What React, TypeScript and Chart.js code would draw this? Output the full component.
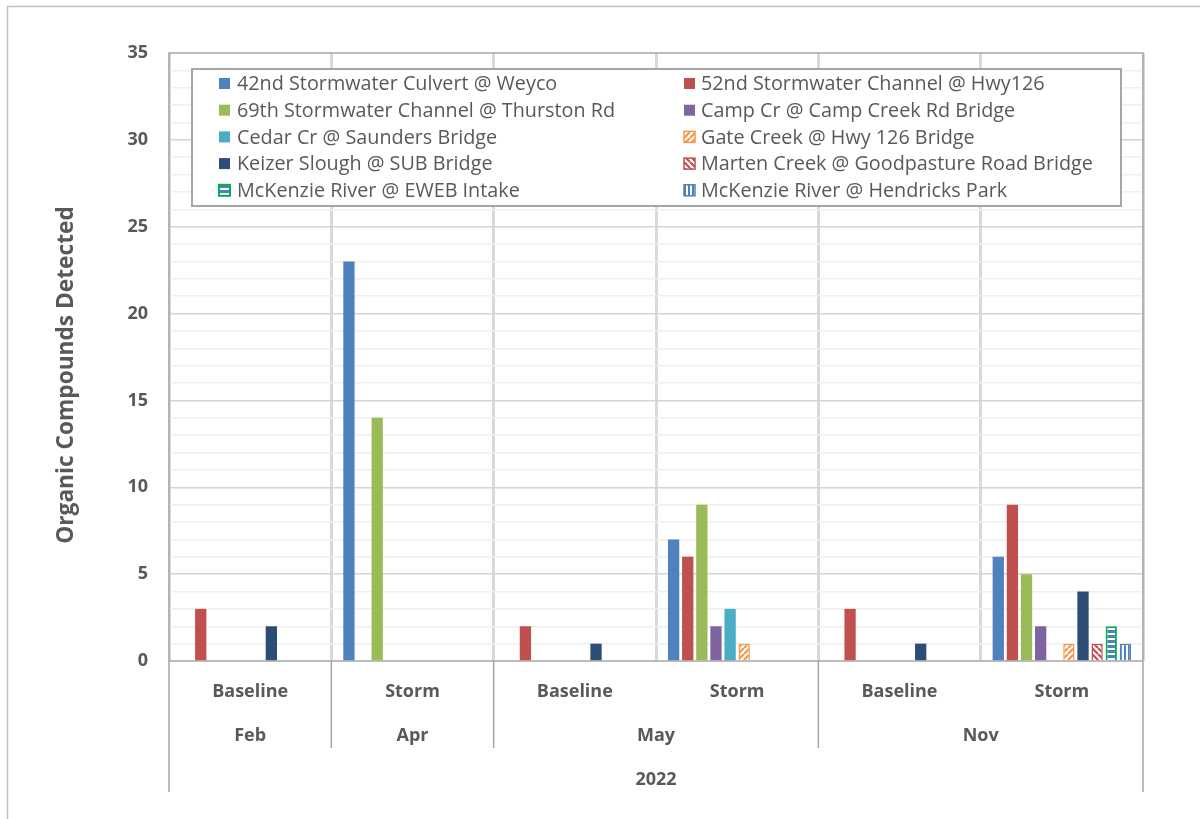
import React, { useEffect, useRef } from 'react';
import { Chart, registerables } from 'chart.js';

Chart.register(...registerables);

// ---- Data ----
const categories = ['Baseline', 'Storm', 'Baseline', 'Storm', 'Baseline', 'Storm'];
const months = ['Feb', 'Apr', 'May', 'Nov'];
const monthSpans = [1, 1, 2, 2];
const yearLabel = '2022';

const seriesNames = [
  '42nd Stormwater Culvert @ Weyco',
  '52nd Stormwater Channel @ Hwy126',
  '69th Stormwater Channel @ Thurston Rd',
  'Camp Cr @ Camp Creek Rd Bridge',
  'Cedar Cr @ Saunders Bridge',
  'Gate Creek @ Hwy 126 Bridge',
  'Keizer Slough @ SUB Bridge',
  'Marten Creek @ Goodpasture Road Bridge',
  'McKenzie River @ EWEB Intake',
  'McKenzie River @ Hendricks Park',
];

const s42nd = [null, 23, null, 7, null, 6];
const s52nd = [3, null, 2, 6, 3, 9];
const s69th = [null, 14, null, 9, null, 5];
const sCamp = [null, null, null, 2, null, 2];
const sCedar = [null, null, null, 3, null, null];
const sGate = [null, null, null, 1, null, 1];
const sKeizer = [2, null, 1, null, 1, 4];
const sMarten = [null, null, null, null, null, 1];
const sEweb = [null, null, null, null, null, 2];
const sHendricks = [null, null, null, null, null, 1];

const seriesValues = [s42nd, s52nd, s69th, sCamp, sCedar, sGate, sKeizer, sMarten, sEweb, sHendricks];

const yMin = 0;
const yMax = 35;
const yStep = 1;
const yLabelStep = 5;
const yTitle = 'Organic Compounds Detected';

// ---- Styles ----
const FONT = '"Open Sans", "Noto Sans", sans-serif';
const TEXT = '#595959';
const FRAME = '#a6a6a6';

type Fill = { kind: 'solid' | 'up' | 'down' | 'horiz' | 'vert'; color: string; border?: string };
const seriesFills: Fill[] = [
  { kind: 'solid', color: '#4f81bd' },
  { kind: 'solid', color: '#c0504d' },
  { kind: 'solid', color: '#9bbb59' },
  { kind: 'solid', color: '#8064a2' },
  { kind: 'solid', color: '#4bacc6' },
  { kind: 'up', color: '#f79646', border: '#f79646' },
  { kind: 'solid', color: '#2c4d75' },
  { kind: 'down', color: '#c0504d', border: '#c0504d' },
  { kind: 'horiz', color: '#4f81bd', border: '#00b050' },
  { kind: 'vert', color: '#4f81bd', border: '#4f81bd' },
];

function makeFill(f: Fill): string | CanvasPattern {
  if (f.kind === 'solid') return f.color;
  const c = document.createElement('canvas');
  const g = c.getContext('2d')!;
  if (f.kind === 'up' || f.kind === 'down') {
    const s = 6;
    c.width = s; c.height = s;
    g.fillStyle = '#ffffff';
    g.fillRect(0, 0, s, s);
    g.strokeStyle = f.color;
    g.lineWidth = 2.2;
    g.beginPath();
    for (const k of [-s, 0, s]) {
      if (f.kind === 'up') { g.moveTo(k, s); g.lineTo(k + s, 0); }
      else { g.moveTo(k, 0); g.lineTo(k + s, s); }
    }
    g.stroke();
  } else if (f.kind === 'horiz') {
    c.width = 4; c.height = 5;
    g.fillStyle = '#ffffff';
    g.fillRect(0, 0, 4, 5);
    g.fillStyle = f.color;
    g.fillRect(0, 0, 4, 3);
  } else {
    c.width = 4; c.height = 4;
    g.fillStyle = '#ffffff';
    g.fillRect(0, 0, 4, 4);
    g.fillStyle = f.color;
    g.fillRect(0, 0, 2, 4);
  }
  return g.createPattern(c, 'repeat')!;
}

const decorPlugin = {
  id: 'decor',
  beforeDatasetsDraw(chart: any) {
    const ctx = chart.ctx as CanvasRenderingContext2D;
    const { left, right, top, bottom } = chart.chartArea;
    ctx.save();
    ctx.strokeStyle = FRAME;
    ctx.lineWidth = 1.5;
    ctx.beginPath();
    ctx.moveTo(left, bottom); ctx.lineTo(left, top); ctx.lineTo(right, top); ctx.lineTo(right, bottom);
    ctx.moveTo(left, bottom); ctx.lineTo(right, bottom);
    ctx.stroke();
    ctx.restore();
  },
  afterDraw(chart: any) {
    const ctx = chart.ctx as CanvasRenderingContext2D;
    const { left, right, bottom } = chart.chartArea;
    const xs = chart.scales.x;
    const half = (xs.getPixelForValue(1) - xs.getPixelForValue(0)) / 2;
    ctx.save();

    // outer frame
    ctx.strokeStyle = '#bfbfbf';
    ctx.lineWidth = 1.5;
    ctx.beginPath();
    ctx.moveTo(7.5, 819); ctx.lineTo(7.5, 6.5); ctx.lineTo(1200, 6.5);
    ctx.stroke();

    // x axis multi-level separators
    ctx.strokeStyle = FRAME;
    ctx.lineWidth = 1.5;
    ctx.beginPath();
    ctx.moveTo(left, bottom); ctx.lineTo(left, 792);
    ctx.moveTo(right, bottom); ctx.lineTo(right, 792);
    let idx = 0;
    for (let m = 0; m < months.length; m++) {
      if (m > 0) {
        const bx = xs.getPixelForValue(idx) - half;
        ctx.moveTo(bx, bottom); ctx.lineTo(bx, 748);
      }
      idx += monthSpans[m];
    }
    ctx.stroke();

    // labels
    ctx.fillStyle = TEXT;
    ctx.font = `bold 18px ${FONT}`;
    ctx.textAlign = 'center';
    ctx.textBaseline = 'alphabetic';
    categories.forEach((c, i) => {
      ctx.fillText(c, xs.getPixelForValue(i), 697);
    });
    idx = 0;
    months.forEach((m, k) => {
      const a = xs.getPixelForValue(idx);
      const b = xs.getPixelForValue(idx + monthSpans[k] - 1);
      ctx.fillText(m, (a + b) / 2, 741);
      idx += monthSpans[k];
    });
    ctx.fillText(yearLabel, (left + right) / 2, 785);

    // y title
    ctx.save();
    ctx.translate(72.5, 375);
    ctx.rotate(-Math.PI / 2);
    ctx.font = `bold 22.7px ${FONT}`;
    ctx.fillText(yTitle, 0, 0);
    ctx.restore();

    // legend
    const lx = 192, ly = 69, lw = 929, lh = 137;
    ctx.fillStyle = '#ffffff';
    ctx.fillRect(lx, ly, lw, lh);
    ctx.strokeStyle = FRAME;
    ctx.lineWidth = 2;
    ctx.strokeRect(lx, ly, lw, lh);
    ctx.font = `19.8px ${FONT}`;
    ctx.textAlign = 'left';
    ctx.textBaseline = 'middle';
    const colMarker = [219, 684];
    const colText = [237, 701];
    chart.data.datasets.forEach((ds: any, i: number) => {
      const col = i % 2;
      const row = Math.floor(i / 2);
      const cy = 83.5 + row * 26.7;
      const mx = colMarker[col];
      const s = 11;
      ctx.fillStyle = ds.backgroundColor;
      ctx.fillRect(mx, cy - s / 2, s, s);
      if (ds.borderWidth > 0) {
        ctx.strokeStyle = ds.borderColor;
        ctx.lineWidth = ds.borderWidth;
        ctx.strokeRect(mx, cy - s / 2, s, s);
      }
      ctx.fillStyle = TEXT;
      ctx.fillText(ds.label, colText[col], cy + 1);
    });

    ctx.restore();
  },
};

export default function App() {
  const ref = useRef<HTMLCanvasElement>(null);
  useEffect(() => {
    const canvas = ref.current!;
    const datasets = seriesNames.map((name, i) => {
      const f = seriesFills[i];
      return {
        label: name,
        data: seriesValues[i],
        backgroundColor: makeFill(f),
        borderColor: f.border || f.color,
        borderWidth: f.border ? (f.kind === 'horiz' ? 2 : 1.5) : 0,
        categoryPercentage: 0.87,
        barPercentage: 0.8,
      };
    });
    const chart = new Chart(canvas, {
      type: 'bar',
      data: { labels: categories, datasets },
      options: {
        responsive: false,
        animation: false,
        devicePixelRatio: 1,
        layout: { padding: { left: 0, top: 53, right: 57, bottom: 0 } },
        plugins: { legend: { display: false }, tooltip: { enabled: false } },
        scales: {
          x: {
            offset: true,
            grid: { offset: true, color: '#d9d9d9', lineWidth: 3, drawTicks: false },
            border: { display: false },
            ticks: { display: false },
            afterFit: (s: any) => { s.height = 158; },
          },
          y: {
            min: yMin,
            max: yMax,
            ticks: {
              stepSize: yStep,
              autoSkip: false,
              padding: 21,
              color: TEXT,
              font: { family: FONT, size: 18, weight: 'bold' },
              callback: (v: any) => (Number(v) % yLabelStep === 0 ? String(v) : ''),
            },
            grid: {
              drawTicks: false,
              lineWidth: 1.5,
              color: (c: any) => {
                const v = c.tick ? c.tick.value : 0;
                if (v === yMin || v === yMax) return 'rgba(0,0,0,0)';
                return v % yLabelStep === 0 ? '#d4d4d4' : '#efefef';
              },
            },
            border: { display: false },
            afterFit: (s: any) => { s.width = 169; },
          },
        },
      },
      plugins: [decorPlugin],
    } as any);
    return () => chart.destroy();
  }, []);
  return (
    <div style={{ position: 'fixed', left: 0, top: 0, width: 1200, height: 819, background: '#fff' }}>
      <canvas ref={ref} width={1200} height={819} style={{ width: 1200, height: 819, display: 'block' }} />
    </div>
  );
}
